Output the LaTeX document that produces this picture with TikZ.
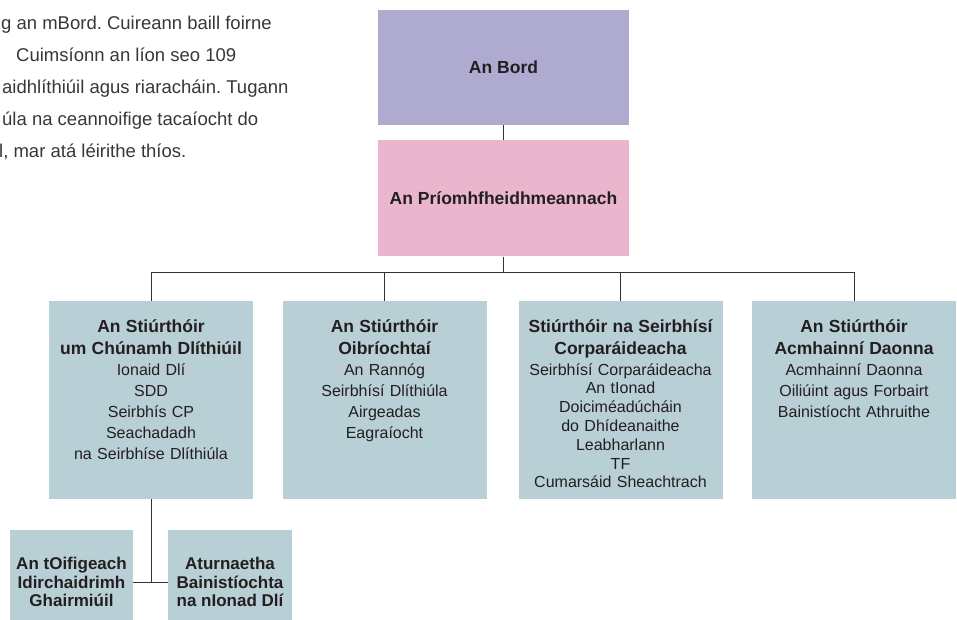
\documentclass[tikz,border=0pt]{standalone}
\usepackage{fontspec}
\setmainfont{Liberation Sans}
\frenchspacing
\usetikzlibrary{positioning}
\definecolor{boardpurple}{RGB}{174,170,208}
\definecolor{ceopink}{RGB}{234,182,206}
\definecolor{dirblue}{RGB}{184,207,213}
\definecolor{inktext}{RGB}{35,31,32}
\definecolor{introgray}{RGB}{55,55,55}
\newcommand{\dirtitle}[1]{{\fontsize{17.5}{21}\selectfont\bfseries #1}}
\tikzset{topbox/.style={fill=#1, minimum width=251pt, minimum height=115pt, inner sep=0pt,
  text=inktext, font=\fontsize{17.5}{21}\selectfont\bfseries},
dirbox/.style={fill=dirblue, minimum width=204pt, minimum height=198pt, inner sep=0pt, anchor=north},
dirtext/.style={anchor=north, align=center, text width=200pt, inner sep=0pt, text=inktext,
  font=\fontsize{16}{21}\selectfont},
smallbox/.style={fill=dirblue, minimum width=123pt, minimum height=104pt, inner sep=0pt, align=center,
  text=inktext, font=\fontsize{17}{18.5}\selectfont\bfseries},
intro/.style={anchor=base west, inner sep=0pt, text=introgray, font=\fontsize{18.5}{32}\selectfont},
link/.style={draw=black!80, line width=1pt}}

\begin{document}
\begin{tikzpicture}[x=1pt,y=-1pt]
\useasboundingbox (0,0) rectangle (957,619);

% opening lines of the text beside the chart
\node[intro] (intro1) at (1,29) {g an mBord. Cuireann baill foirne};
\node[intro] (intro2) at (16,61) {Cuimsíonn an líon seo 109};
\node[intro] (intro3) at (2,93) {aidhlíthiúil agus riaracháin. Tugann};
\node[intro] (intro4) at (2,125) {úla na ceannoifige tacaíocht do};
\node[intro] (intro5) at (-1,157) {l, mar atá léirithe thíos.};

% board and chief executive
\node[topbox=boardpurple] (bord) at (503.5,67.5) {An Bord};
\node[topbox=ceopink, minimum height=116pt, below=15pt of bord] (ceo) {An Príomhfheidhmeannach};

% directors
\node[dirbox] (dcl) at (151,301) {};
\node[dirbox] (dops) at (384.5,301) {};
\node[dirbox] (dcs) at (620.5,301) {};
\node[dirbox] (dhr) at (854,301) {};

\node[dirtext] (dcl-t) at ([yshift=-18pt]dcl.north) {\dirtitle{An Stiúrthóir}\\[1pt]
  \dirtitle{um Chúnamh Dlíthiúil}\\ Ionaid Dlí\\ SDD\\ Seirbhís CP\\ Seachadadh\\ na Seirbhíse Dlíthiúla};
\node[dirtext] (dops-t) at ([yshift=-18pt]dops.north) {\dirtitle{An Stiúrthóir}\\[1pt]
  \dirtitle{Oibríochtaí}\\ An Rannóg\\ Seirbhísí Dlíthiúla\\ Airgeadas\\ Eagraíocht};
\node[dirtext, font=\fontsize{16}{18.8}\selectfont] (dcs-t) at ([yshift=-18pt]dcs.north)
  {\dirtitle{Stiúrthóir na Seirbhísí}\\[3.2pt]
  \dirtitle{Corparáideacha}\\[2.2pt] Seirbhísí Corparáideacha\\ An tIonad\\ Doiciméadúcháin\\
  do Dhídeanaithe\\ Leabharlann\\ TF\\ Cumarsáid Sheachtrach};
\node[dirtext] (dhr-t) at ([yshift=-18pt]dhr.north) {\dirtitle{An Stiúrthóir}\\[1pt]
  \dirtitle{Acmhainní Daonna}\\ Acmhainní Daonna\\ Oiliúint agus Forbairt\\ Bainistíocht Athruithe};

% under the legal aid director
\node[smallbox] (liaison) at (71.5,582) {An tOifigeach\\ Idirchaidrimh\\ Ghairmiúil};
\node[smallbox, minimum width=124pt] (attorney) at (230,582) {Aturnaetha\\ Bainistíochta\\ na nIonad Dlí};

% connectors
\coordinate (bus) at ([yshift=-16pt]ceo.south);
\draw[link] (bord) -- (ceo);
\draw[link] (ceo) -- (bus);
\foreach \d in {dcl,dops,dcs,dhr}
  \draw[link] (bus) -| (\d.north);
\draw[link] (dcl) -- (dcl |- liaison);
\draw[link] (liaison) -- (attorney);
\end{tikzpicture}
\end{document}
